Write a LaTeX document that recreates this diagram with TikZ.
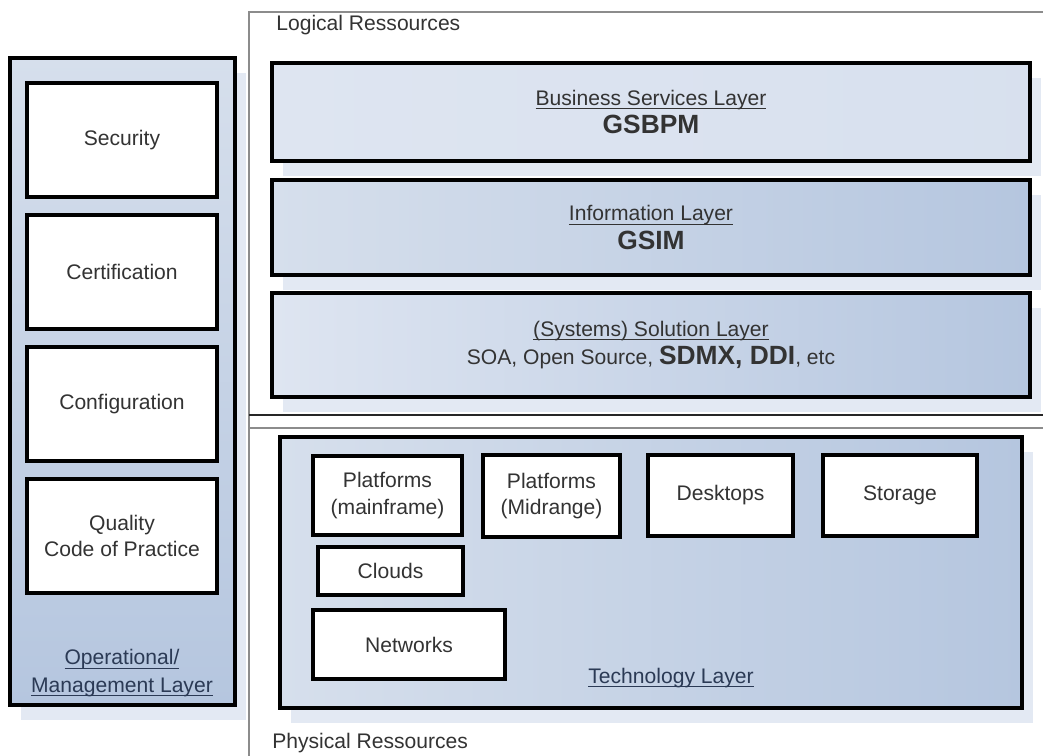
\documentclass[tikz,border=0pt]{standalone}
\usepackage{fontspec}
\setmainfont{Liberation Sans}
\usetikzlibrary{shadows}
\definecolor{layerlight}{HTML}{D6DFEC}
\definecolor{layerdark}{HTML}{B5C6DF}
\definecolor{paleblue}{HTML}{DEE5F1}
\definecolor{shadowblue}{HTML}{E3E9F3}
\definecolor{framegray}{HTML}{8C8C8C}
\definecolor{textgray}{HTML}{333333}
\definecolor{labelblue}{HTML}{2B3A55}
\newcommand{\stdname}[1]{{\fontsize{15}{16}\selectfont\bfseries #1}}
\newsavebox{\ulinebox}
\newcommand{\ulined}[1]{\sbox{\ulinebox}{#1}%
  \rlap{\rule[-2.2pt]{\wd\ulinebox}{0.55pt}}\usebox{\ulinebox}}

\begin{document}
\begin{tikzpicture}[x=0.02cm, y=-0.02cm,
  layer/.style={draw=black, line width=2.2pt, inner sep=0pt,
    left color=layerlight, right color=layerdark,
    drop shadow={shadow xshift=0.22cm, shadow yshift=-0.3cm,
      fill=shadowblue, opacity=1},
    text=textgray, align=center, font=\fontsize{12}{16}\selectfont},
  item/.style={draw=black, line width=2.2pt, fill=white, inner sep=0pt,
    text=textgray, align=center, font=\fontsize{12}{15}\selectfont},
  caption/.style={inner sep=0pt, text=labelblue, align=center,
    font=\fontsize{12}{15.5}\selectfont},
  region/.style={inner sep=0pt, anchor=west, text=textgray,
    font=\fontsize{12}{15}\selectfont}]

\useasboundingbox (0,0) rectangle (1043,756);

\draw[framegray, line width=1.3pt] (1043,12) -- (249,12) -- (249,756);
\draw[black!85, line width=0.8pt] (249,415) -- (1043,415);
\draw[framegray, line width=1.3pt] (249,428) -- (1043,428);

\node[region] (logical) at (276,25) {Logical Ressources};
\node[region] (physical) at (272,743) {Physical Ressources};

\node[layer, top color=layerlight, bottom color=layerdark,
      minimum width=4.5cm, minimum height=12.94cm] (opmgmt) at (122.5,381.5) {};
\node[caption] (oplabel) at (122,673)
  {\ulined{Operational/}\\\ulined{Management Layer}};

\node[item, minimum width=3.8cm, minimum height=2.28cm] (security) at (122,140) {Security};
\node[item, minimum width=3.8cm, minimum height=2.28cm] (certif) at (122,272) {Certification};
\node[item, minimum width=3.8cm, minimum height=2.28cm] (config) at (122,404) {Configuration};
\node[item, minimum width=3.8cm, minimum height=2.28cm] (quality) at (122,536)
  {Quality\\Code of Practice};

\node[layer, left color=paleblue, right color=paleblue!85!layerdark,
      minimum width=15.16cm, minimum height=1.96cm] (business) at (651,112)
  {\ulined{Business Services Layer}\\\stdname{GSBPM}};
\node[layer, minimum width=15.16cm, minimum height=1.9cm] (information) at (651,227.5)
  {\ulined{Information Layer}\\\stdname{GSIM}};
\node[layer, left color=paleblue, minimum width=15.16cm, minimum height=2.08cm] (solution) at (651,345)
  {\ulined{(Systems) Solution Layer}\\SOA, Open Source, \stdname{SDMX, DDI}, etc};

\node[layer, minimum width=14.84cm, minimum height=5.42cm] (technology) at (651,572.5) {};
\node[caption] (techlabel) at (671,678) {\ulined{Technology Layer}};

\node[item, minimum width=2.98cm, minimum height=1.58cm] (mainframe) at (387.5,495.5)
  {Platforms\\(mainframe)};
\node[item, minimum width=2.74cm, minimum height=1.64cm] (midrange) at (551.5,496)
  {Platforms\\(Midrange)};
\node[item, minimum width=2.9cm, minimum height=1.62cm] (desktops) at (720.5,495.5) {Desktops};
\node[item, minimum width=3.08cm, minimum height=1.62cm] (storage) at (900,495.5) {Storage};
\node[item, minimum width=2.9cm, minimum height=0.96cm] (clouds) at (390.5,571) {Clouds};
\node[item, minimum width=3.84cm, minimum height=1.38cm] (networks) at (409,644.5) {Networks};
\end{tikzpicture}
\end{document}
